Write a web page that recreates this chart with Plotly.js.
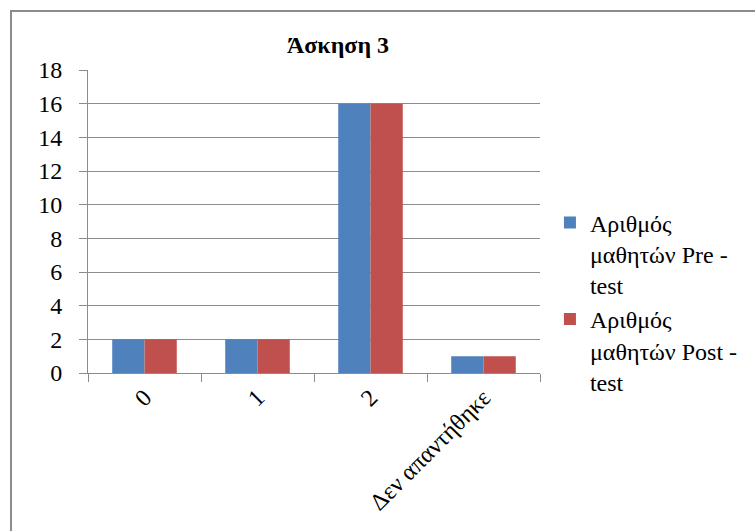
<!DOCTYPE html>
<html>
<head>
<meta charset="utf-8">
<script src="https://cdn.plot.ly/plotly-3.0.1.min.js"></script>
<style>
  html, body { margin: 0; padding: 0; background: #fff; overflow: hidden; }
  #chart { position: absolute; left: 0; top: 0; width: 755px; height: 531px; }
</style>
</head>
<body>
<div id="chart"></div>
<script>
const categories = ["0", "1", "2", "Δεν απαντήθηκε"];
const preTest = [2, 2, 16, 1];
const postTest = [2, 2, 16, 1];
const seriesNames = ["Αριθμός<br>μαθητών Pre -<br>test", "Αριθμός<br>μαθητών Post -<br>test"];
const yTicks = [0, 2, 4, 6, 8, 10, 12, 14, 16, 18];

const font = "Liberation Serif, serif";

const data = [
  { type: "bar", x: categories, y: preTest, name: seriesNames[0], marker: { color: "#4f81bd" } },
  { type: "bar", x: categories, y: postTest, name: seriesNames[1], marker: { color: "#c0504d" } }
];

const layout = {
  width: 755, height: 531,
  margin: { l: 88, r: 215, t: 70, b: 158, autoexpand: false },
  font: { family: font, size: 24, color: "#000" },
  title: { text: "<b>Άσκηση 3</b>", font: { family: font, size: 24, color: "#000" }, x: 338 / 755, xanchor: "center", y: 1 - 45 / 531, yanchor: "middle" },
  barmode: "group",
  bargap: 0.4286,
  bargroupgap: 0,
  showlegend: true,
  legend: { x: 1.022, y: 0.57, xanchor: "left", yanchor: "top", valign: "top", bgcolor: "rgba(0,0,0,0)", tracegroupgap: 0, itemwidth: 30 },
  shapes: [{
    type: "rect", xref: "paper", yref: "paper",
    x0: (11 - 88) / 452, x1: 2, y0: -1, y1: (373 - 11) / 303,
    line: { color: "#8c8c8c", width: 2 }, fillcolor: "rgba(0,0,0,0)", layer: "below"
  }],
  xaxis: {
    type: "category",
    tickangle: -45,
    tickson: "boundaries",
    ticks: "outside", ticklen: 8, tickcolor: "#8c8c8c", tickwidth: 1,
    showline: true, linecolor: "#8c8c8c", linewidth: 1,
    showgrid: false
  },
  yaxis: {
    range: [0, 18],
    tickvals: yTicks,
    ticks: "outside", ticklen: 8, tickcolor: "#8c8c8c", tickwidth: 1,
    ticklabelstandoff: 12,
    showline: true, linecolor: "#8c8c8c", linewidth: 1,
    showgrid: true, gridcolor: "#8c8c8c", gridwidth: 1,
    zeroline: false
  }
};

Plotly.newPlot("chart", data, layout, { displayModeBar: false });
</script>
</body>
</html>
